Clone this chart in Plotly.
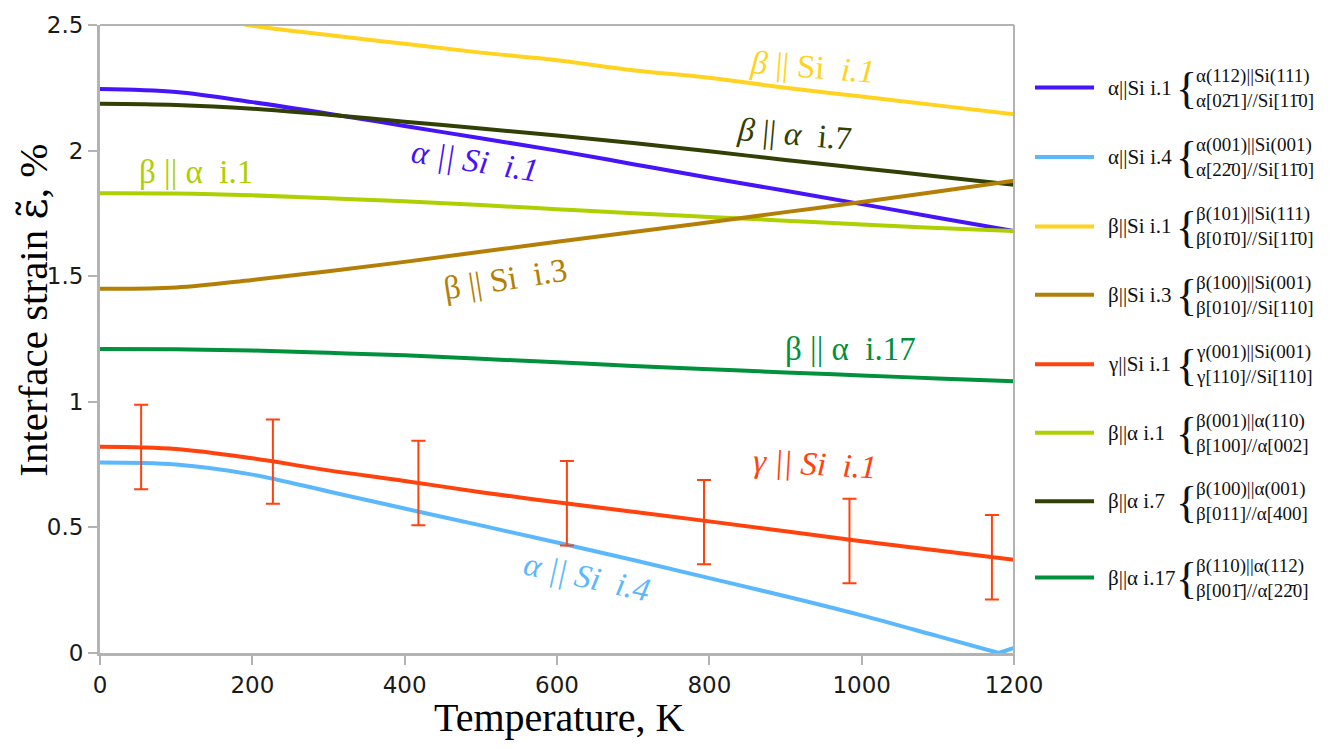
import plotly.graph_objects as go

# ---------------- data ----------------
T = [0, 100, 200, 300, 400, 500, 600, 700, 800, 900, 1000, 1100, 1200]
T_A4 = [0, 100, 200, 300, 400, 500, 600, 700, 800, 900, 1000, 1100, 1180]
T_A4_TAIL = [1180, 1200]

alpha_si_1 = [2.245, 2.233, 2.193, 2.147, 2.098, 2.049, 2.0, 1.946, 1.892, 1.84, 1.787, 1.733, 1.68]
alpha_si_4 = [0.758, 0.75, 0.71, 0.643, 0.575, 0.508, 0.44, 0.37, 0.298, 0.226, 0.15, 0.067, 0.0]
alpha_si_4_tail = [0.0, 0.02]
beta_si_1 = [2.565, 2.55, 2.497, 2.46, 2.425, 2.39, 2.36, 2.32, 2.29, 2.25, 2.215, 2.18, 2.145]
beta_si_3 = [1.45, 1.455, 1.485, 1.52, 1.557, 1.597, 1.637, 1.676, 1.715, 1.755, 1.795, 1.837, 1.88]
gamma_si_1 = [0.821, 0.812, 0.775, 0.727, 0.685, 0.64, 0.6, 0.562, 0.524, 0.485, 0.445, 0.408, 0.371]
beta_alpha_1 = [1.83, 1.829, 1.822, 1.81, 1.798, 1.783, 1.767, 1.751, 1.736, 1.721, 1.706, 1.692, 1.68]
beta_alpha_7 = [2.187, 2.182, 2.167, 2.143, 2.115, 2.088, 2.06, 2.03, 1.997, 1.963, 1.93, 1.897, 1.864]
beta_alpha_17 = [1.21, 1.209, 1.204, 1.195, 1.185, 1.171, 1.157, 1.143, 1.13, 1.117, 1.105, 1.093, 1.082]

T_ERR = [54, 227, 418, 613, 793, 984, 1171]
gamma_err_center = [0.82, 0.762, 0.677, 0.596, 0.521, 0.446, 0.381]
gamma_err = [0.168, 0.168, 0.168, 0.168, 0.168, 0.168, 0.168]

x_ticks = [0, 200, 400, 600, 800, 1000, 1200]
x_ticklabels = ["0", "200", "400", "600", "800", "1000", "1200"]
y_ticks = [0, 0.5, 1, 1.5, 2, 2.5]
y_ticklabels = ["0", "0.5", "1", "1.5", "2", "2.5"]

legend_names = ["α||Si i.1", "α||Si i.4", "β||Si i.1", "β||Si i.3",
                "γ||Si i.1", "β||α i.1", "β||α i.7", "β||α i.17"]
legend_line1 = ["α(112)||Si(111)", "α(001)||Si(001)", "β(101)||Si(111)", "β(100)||Si(001)",
                "γ(001)||Si(001)", "β(001)||α(110)", "β(100)||α(001)", "β(110)||α(112)"]
legend_line2 = ["α[02\u03041]//Si[11\u03040]", "α[22\u03040]//Si[11\u03040]",
                "β[01\u03040]//Si[11\u03040]", "β[010]//Si[110]",
                "γ[110]//Si[110]", "β[100]//α[002]",
                "β[011]//α[400]", "β[001\u0304]//α[22\u03040]"]

# ---------------- style ----------------
C_BLUE = "#4713f7"
C_LBLUE = "#5cb8fc"
C_YEL = "#ffd320"
C_BROWN = "#b47f06"
C_RED = "#ff420e"
C_LGREEN = "#aecf00"
C_DGREEN = "#314004"
C_GREEN = "#00913d"
GREY = "#b3b3b3"
SERIF = "Liberation Serif"

W, H = 1335, 749
ML, MR, MT, MB = 100, 321, 20, 96
PW, PH = W - ML - MR, H - MT - MB


def px_x(p):
    return (p - ML) / PW


def px_y(p):
    return (H - MB - p) / PH


fig = go.Figure()

series = [
    (T, beta_si_1, C_YEL),
    (T, alpha_si_1, C_BLUE),
    (T, beta_alpha_7, C_DGREEN),
    (T, beta_alpha_1, C_LGREEN),
    (T, beta_si_3, C_BROWN),
    (T, beta_alpha_17, C_GREEN),
    (T_A4, alpha_si_4, C_LBLUE),
    (T_A4_TAIL, alpha_si_4_tail, C_LBLUE),
    (T, gamma_si_1, C_RED),
]
for xs, ys, col in series:
    fig.add_trace(go.Scatter(x=xs, y=ys, mode="lines",
                             line=dict(color=col, width=4, shape="spline", smoothing=1.0),
                             showlegend=False, hoverinfo="skip"))

fig.add_trace(go.Scatter(
    x=T_ERR, y=gamma_err_center, mode="markers",
    marker=dict(size=1, color="rgba(0,0,0,0)"),
    error_y=dict(type="data", array=gamma_err, color=C_RED, thickness=2, width=7),
    showlegend=False, hoverinfo="skip"))

# curve labels
NB = "\u00a0"
labels = [
    ("<i>β</i> || Si " + NB + "<i>i.1</i>", 936, 2.334, 4.5, C_YEL),
    ("<i>α || Si " + NB + "i.1</i>", 492, 1.959, 9, C_BLUE),
    ("<i>β</i> || <i>α</i> " + NB + "i.7", 912, 2.065, 5, C_DGREEN),
    ("β || α " + NB + "i.1", 126, 1.915, 0, C_LGREEN),
    ("β || Si " + NB + "i.3", 532, 1.49, -9, C_BROWN),
    ("β || α " + NB + "i.17", 985, 1.212, 0, C_GREEN),
    ("<i>γ || Si " + NB + "i.1</i>", 939, 0.754, 3.3, C_RED),
    ("<i>α || Si " + NB + "i.4</i>", 639, 0.304, 12.5, C_LBLUE),
]
for txt, lx, ly, ang, col in labels:
    fig.add_annotation(x=lx, y=ly, xref="x", yref="y", text=txt, showarrow=False,
                       textangle=ang, xanchor="center", yanchor="middle",
                       font=dict(family=SERIF, size=33, color=col))

# legend (manual)
legend_colors = [C_BLUE, C_LBLUE, C_YEL, C_BROWN, C_RED, C_LGREEN, C_DGREEN, C_GREEN]
legend_y = [83, 153, 223, 292, 362, 431, 500, 577]
for name, l1, l2, col, yy in zip(legend_names, legend_line1, legend_line2, legend_colors, legend_y):
    fig.add_shape(type="line", xref="paper", yref="paper",
                  x0=px_x(1035), x1=px_x(1094), y0=px_y(yy), y1=px_y(yy),
                  line=dict(color=col, width=4))
    fig.add_annotation(xref="paper", yref="paper", x=px_x(1106), y=px_y(yy), text=name,
                       showarrow=False, xanchor="left", yanchor="middle",
                       font=dict(family=SERIF, size=21, color="#111111"))
    fig.add_annotation(xref="paper", yref="paper", x=px_x(1186), y=px_y(yy + 1), text="{",
                       showarrow=False, xanchor="center", yanchor="middle",
                       font=dict(family=SERIF, size=44, color="#111111"))
    fig.add_annotation(xref="paper", yref="paper", x=px_x(1194), y=px_y(yy), text=l1 + "<br>" + l2,
                       showarrow=False, xanchor="left", yanchor="middle", align="left",
                       font=dict(family=SERIF, size=19, color="#111111"))

# axis titles
fig.add_annotation(xref="paper", yref="paper", x=px_x(559), y=px_y(718),
                   text="Temperature, K", showarrow=False, xanchor="center", yanchor="middle",
                   font=dict(family=SERIF, size=40, color="black"))
fig.add_annotation(xref="paper", yref="paper", x=px_x(33), y=px_y(308),
                   text="Interface strain <span style=\"font-family:'DejaVu Serif'\">ε\u0303</span>, %",
                   showarrow=False, textangle=-90,
                   xanchor="center", yanchor="middle",
                   font=dict(family=SERIF, size=41, color="black"))

# top & right frame
fig.add_shape(type="line", xref="paper", yref="paper", x0=0, x1=1, y0=1, y1=1,
              line=dict(color=GREY, width=2))
fig.add_shape(type="line", xref="paper", yref="paper", x0=1, x1=1, y0=px_y(661), y1=1,
              line=dict(color=GREY, width=2))

fig.update_layout(
    width=W, height=H,
    margin=dict(l=ML, r=MR, t=MT, b=MB),
    plot_bgcolor="white", paper_bgcolor="white",
    showlegend=False,
    xaxis=dict(range=[0, 1200], showgrid=False, zeroline=False,
               showline=True, linecolor=GREY, linewidth=3,
               ticks="outside", ticklen=9, tickwidth=2, tickcolor=GREY,
               tickvals=x_ticks, ticktext=x_ticklabels,
               tickfont=dict(family="DejaVu Sans", size=23, color="#1a1a1a")),
    yaxis=dict(range=[0, 2.5], showgrid=False, zeroline=False,
               showline=True, linecolor=GREY, linewidth=3,
               ticks="outside", ticklen=9, tickwidth=2, tickcolor=GREY,
               tickvals=y_ticks, ticktext=y_ticklabels,
               tickfont=dict(family="DejaVu Sans", size=23, color="#1a1a1a")),
)

fig.write_html("out.html")
